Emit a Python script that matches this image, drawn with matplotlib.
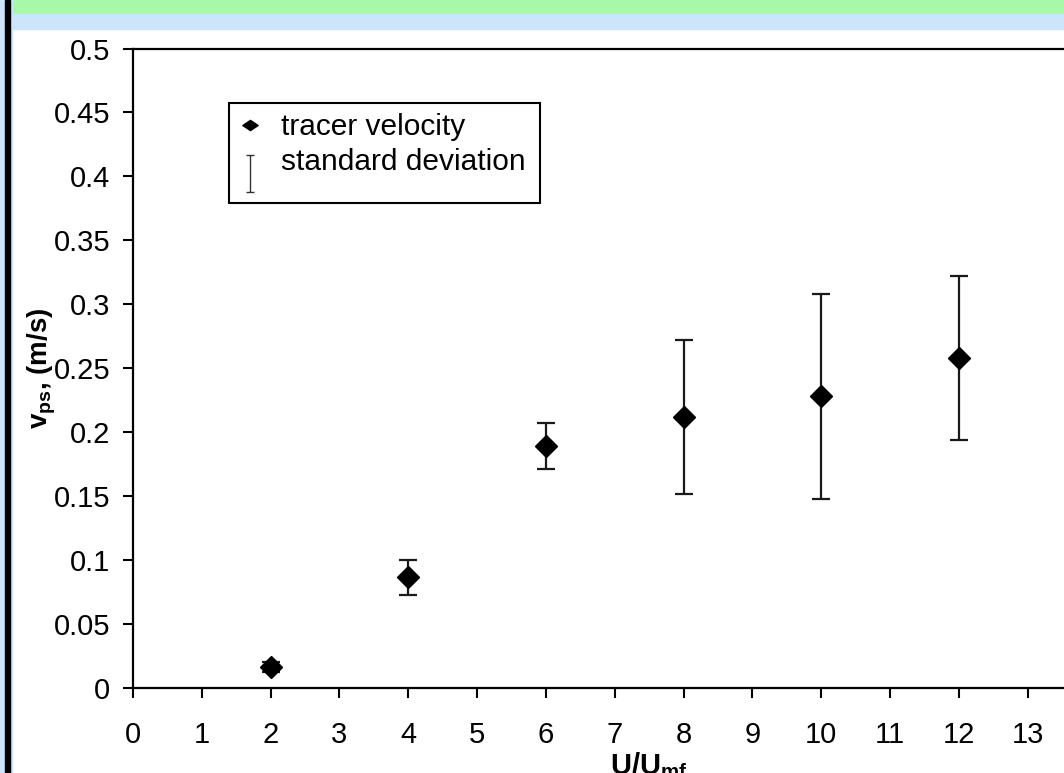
import matplotlib
matplotlib.use("Agg")
import matplotlib.pyplot as plt
from matplotlib.lines import Line2D
from matplotlib.patches import Rectangle
from matplotlib.path import Path

plt.rcParams['font.family'] = ['Liberation Sans', 'DejaVu Sans']
plt.rcParams['mathtext.fontset'] = 'custom'
plt.rcParams['mathtext.rm'] = 'Liberation Sans'
plt.rcParams['mathtext.bf'] = 'Liberation Sans:bold'

# velocidad del trazador frente a U/Umf
u_ratio = [2, 4, 6, 8, 10, 12]
v_ps = [0.0165, 0.0865, 0.189, 0.212, 0.228, 0.258]
v_std = [0.004, 0.0135, 0.018, 0.060, 0.080, 0.064]

x_ticks = list(range(0, 16))
y_ticks = [0, 0.05, 0.1, 0.15, 0.2, 0.25, 0.3, 0.35, 0.4, 0.45, 0.5]
y_tick_labels = ['0', '0.05', '0.1', '0.15', '0.2', '0.25', '0.3', '0.35', '0.4', '0.45', '0.5']

W, H = 1064, 773
fig = plt.figure(figsize=(W / 100, H / 100), dpi=100)
fig.patch.set_facecolor('white')

# franjas de la diapositiva (arriba y borde izquierdo)
fig.patches.append(Rectangle((0, 1 - 14 / H), 1, 14 / H, transform=fig.transFigure,
                             color='#a6f9a8', zorder=0))
fig.patches.append(Rectangle((0, 1 - 29 / H), 1, 15 / H, transform=fig.transFigure,
                             color='#cce5fc', zorder=0))
fig.patches.append(Rectangle((0, 0), 12 / W, 1, transform=fig.transFigure,
                             color='#cce5fc', zorder=1))
fig.patches.append(Rectangle((5 / W, 0), 5 / W, 1, transform=fig.transFigure,
                             color='black', zorder=2))

left, top, bottom = 133, 48.5, 688
right = 133 + 15 * 68.82
ax = fig.add_axes([left / W, (H - bottom) / H, (right - left) / W, (bottom - top) / H])

ax.errorbar(u_ratio, v_ps, yerr=v_std, fmt='none', ecolor='#1a1a1a',
            elinewidth=1.6, capsize=6.5, capthick=1.6, zorder=2)
ax.plot(u_ratio, v_ps, ls='none', marker='D', ms=11, color='black', zorder=3)

ax.set_xlim(0, 15)
ax.set_ylim(0, 0.5)
ax.set_xticks(x_ticks)
ax.set_yticks(y_ticks)
ax.set_yticklabels(y_tick_labels)

for side in ['left', 'bottom', 'top']:
    ax.spines[side].set_linewidth(1.6)
ax.spines['right'].set_visible(False)
ax.tick_params(axis='both', direction='out', length=7.5, width=1.5, labelsize=21, color='black')
ax.tick_params(axis='y', pad=9)
ax.tick_params(axis='x', pad=16)

ax.set_xlabel(r'$\mathbf{U/U_{mf}}$', fontsize=21, labelpad=1)
ax.set_ylabel(r'$\mathbf{v_{ps}}$, (m/s)', fontsize=20, fontweight='bold', labelpad=-3)

# leyenda: marco propio y entradas sin marco
def to_ax(px, py):
    return (px - left) / (right - left), (bottom - py) / (bottom - top)

x0, y0 = to_ax(229, 203)
x1, y1 = to_ax(540, 103)
ax.add_patch(Rectangle((x0, y0), x1 - x0, y1 - y0, transform=ax.transAxes,
                       fill=True, facecolor='white', edgecolor='black', lw=1.5, zorder=4))

# símbolo de la desviación estándar, algo por debajo del texto
ibeam = Path([(-4, -33), (4, -33), (0, -33), (0, 4), (-4, 4), (4, 4)],
             [Path.MOVETO, Path.LINETO, Path.MOVETO, Path.LINETO, Path.MOVETO, Path.LINETO])
rombo = Path([(-1, 0), (0, 0.67), (1, 0), (0, -0.67), (-1, 0)],
             [Path.MOVETO, Path.LINETO, Path.LINETO, Path.LINETO, Path.CLOSEPOLY])
h_tracer = Line2D([], [], ls='none', marker=rombo, ms=11, color='black')
h_std = Line2D([], [], ls='none', marker=ibeam, ms=47.5, markeredgewidth=1.0,
               markeredgecolor='#333333', markerfacecolor='none')
leg = ax.legend([h_tracer, h_std], ['tracer velocity', 'standard deviation'],
                loc='upper left', bbox_to_anchor=to_ax(223, 104),
                borderaxespad=0, fontsize=21.5, frameon=False,
                handlelength=1.2, handletextpad=0.44,
                borderpad=0.3, labelspacing=0.22)
leg.set_zorder(5)

fig.savefig('out.png', dpi=100)
